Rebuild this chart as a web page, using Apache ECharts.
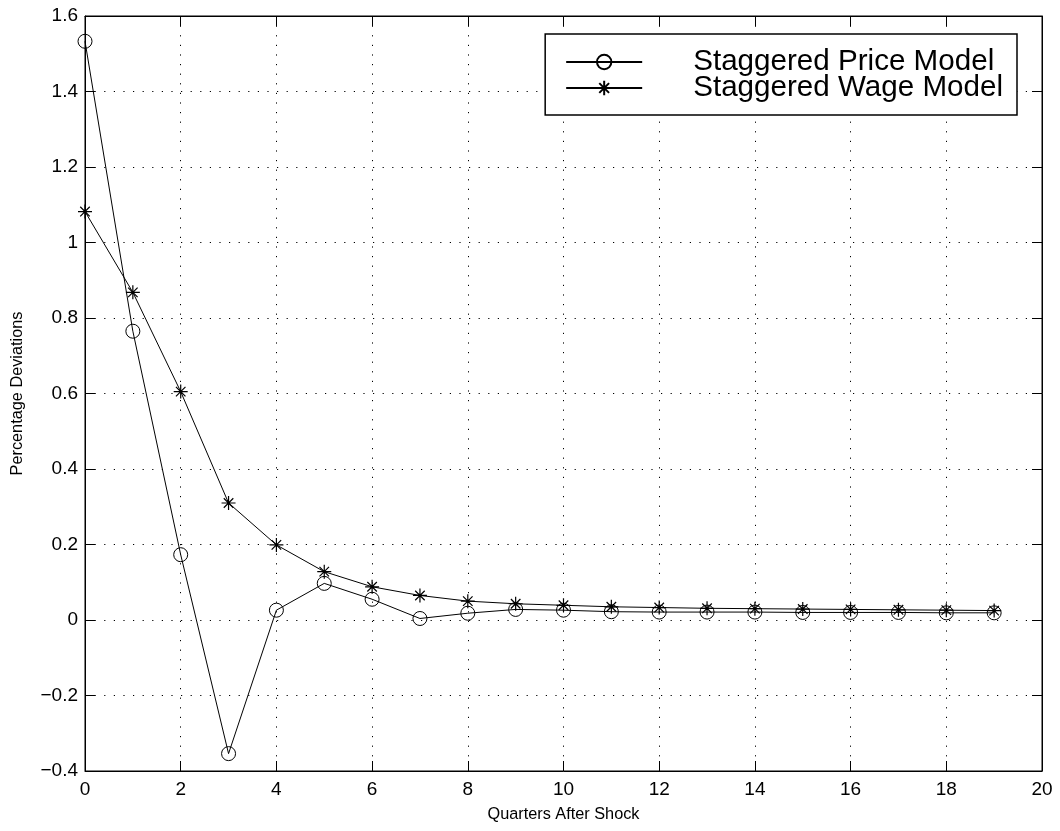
<!DOCTYPE html>
<html><head><meta charset="utf-8">
<script src="https://cdn.jsdelivr.net/npm/echarts@6/dist/echarts.min.js"></script>
<style>html,body{margin:0;padding:0;background:#fff}#c{width:1060px;height:831px}</style>
</head><body><div id="c"></div>
<script>
const quarters = [0,1,2,3,4,5,6,7,8,9,10,11,12,13,14,15,16,17,18,19];
const priceModel = [1.533,0.765,0.173,-0.354,0.026,0.097,0.055,0.004,0.018,0.028,0.026,0.022,0.021,0.021,0.021,0.020,0.020,0.020,0.019,0.019];
const wageModel = [1.082,0.868,0.605,0.310,0.199,0.128,0.088,0.065,0.050,0.043,0.039,0.035,0.033,0.031,0.030,0.029,0.028,0.027,0.026,0.025];
const seriesNames = ['Staggered Price Model','Staggered Wage Model'];
const xTitle = 'Quarters After Shock';
const yTitle = 'Percentage Deviations';

const star = 'path://M5,0L5,10M0,5L10,5M1.6,1.6L8.4,8.4M1.6,8.4L8.4,1.6';
const font = 'Liberation Sans, Arial, Helvetica, sans-serif';
const fmtY = v => { let r = Math.round(v*10)/10; return (r<0?'\u2212':'') + Math.abs(r).toString(); };

const chart = echarts.init(document.getElementById('c'));
const gridLine = {show:true, lineStyle:{color:'#000', type:[1.2,8.4], width:1}};
chart.setOption({
  animation:false,
  backgroundColor:'#fff',
  grid:{left:85, top:16, right:18, bottom:60, show:true, borderColor:'#000', borderWidth:1},
  legend:{
    right:43, top:34, orient:'vertical', itemGap:-4,
    backgroundColor:'#fff', borderColor:'#000', borderWidth:1.5,
    padding:[13,14,12,20],
    itemWidth:76, itemHeight:18,
    textStyle:{fontFamily:font, fontSize:29.6, color:'#000', padding:[0,0,0,46]},
    data:seriesNames
  },
  xAxis:[{
    type:'value', min:0, max:20, interval:2, position:'bottom',
    name:xTitle, nameLocation:'middle', nameGap:36,
    nameTextStyle:{fontFamily:font, fontSize:16.3, color:'#000'},
    axisLine:{show:true, onZero:false, lineStyle:{color:'#000'}},
    axisTick:{show:true, inside:true, length:10, lineStyle:{color:'#000'}},
    axisLabel:{fontFamily:font, fontSize:19, color:'#000', margin:9},
    splitLine:gridLine
  },{
    type:'value', min:0, max:20, interval:2, position:'top',
    axisLine:{show:true, onZero:false, lineStyle:{color:'#000'}},
    axisTick:{show:true, inside:true, length:10, lineStyle:{color:'#000'}},
    axisLabel:{show:false}, splitLine:{show:false}
  }],
  yAxis:[{
    type:'value', min:-0.4, max:1.6, interval:0.2, position:'left',
    name:yTitle, nameLocation:'middle', nameGap:59,
    nameTextStyle:{fontFamily:font, fontSize:16.3, color:'#000'},
    axisLine:{show:true, onZero:false, lineStyle:{color:'#000'}},
    axisTick:{show:true, inside:true, length:10, lineStyle:{color:'#000'}},
    axisLabel:{fontFamily:font, fontSize:19, color:'#000', margin:7, formatter:fmtY},
    splitLine:gridLine
  },{
    type:'value', min:-0.4, max:1.6, interval:0.2, position:'right',
    axisLine:{show:true, onZero:false, lineStyle:{color:'#000'}},
    axisTick:{show:true, inside:true, length:10, lineStyle:{color:'#000'}},
    axisLabel:{show:false}, splitLine:{show:false}
  }],
  series:[{
    name:seriesNames[0], type:'line',
    data:quarters.map((q,i)=>[q, priceModel[i]]),
    symbol:'circle', symbolSize:14, showAllSymbol:true,
    lineStyle:{color:'#000', width:1},
    itemStyle:{color:'rgba(0,0,0,0)', borderColor:'#000', borderWidth:1},
    emphasis:{disabled:true}
  },{
    name:seriesNames[1], type:'line',
    data:quarters.map((q,i)=>[q, wageModel[i]]),
    symbol:star, symbolSize:14, showAllSymbol:true,
    lineStyle:{color:'#000', width:1},
    itemStyle:{color:'rgba(0,0,0,0)', borderColor:'#000', borderWidth:1.2},
    emphasis:{disabled:true}
  }]
});
</script></body></html>
